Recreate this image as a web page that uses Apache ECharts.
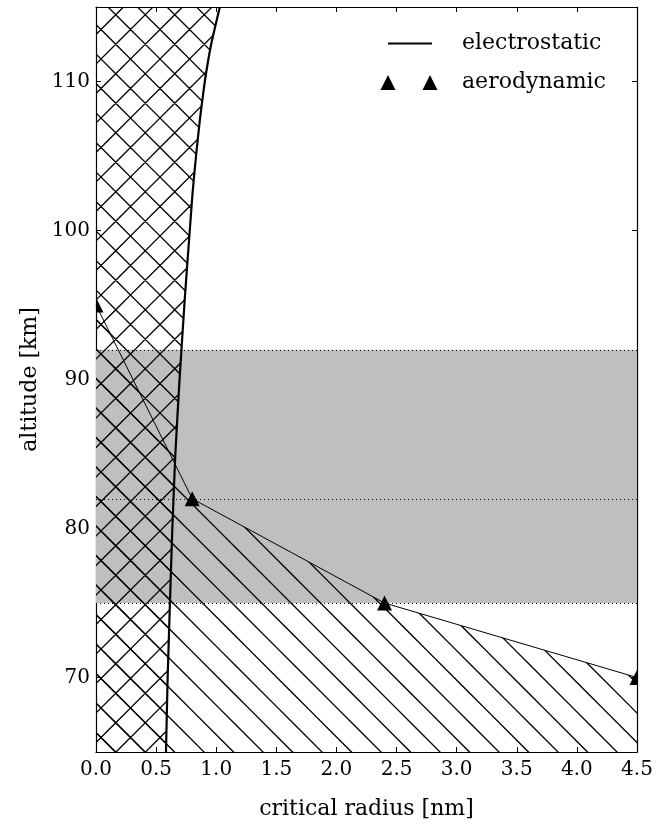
<!DOCTYPE html>
<html>
<head>
<meta charset="utf-8">
<script src="https://cdn.jsdelivr.net/npm/echarts@6/dist/echarts.min.js"></script>
<style>
  html, body { margin: 0; padding: 0; background: #fff; }
  #chart { width: 659px; height: 825px; }
</style>
</head>
<body>
<div id="chart"></div>
<script>
// Electrostatic critical radius (nm) versus altitude (km)
const elecAlt    = [65, 70, 75, 80, 85, 90, 95, 97.5, 100, 102.5, 105, 107.5, 110, 112.5, 115];
const elecRadius = [0.582, 0.596, 0.615, 0.635, 0.66, 0.695, 0.735, 0.757, 0.78, 0.803, 0.832, 0.865, 0.905, 0.958, 1.03];

// Aerodynamic critical radius (nm) versus altitude (km)
const aeroAlt    = [95, 82, 75, 70];
const aeroRadius = [0.0, 0.8, 2.4, 4.5];

// Shaded altitude band and the dotted reference levels
const bandLimits = [75, 92];
const levelLines = [75, 82, 92];

// Axis ranges and tick labels
const xRange = [0, 4.5];
const yRange = [65, 115];
const xTicks = [0, 0.5, 1.0, 1.5, 2.0, 2.5, 3.0, 3.5, 4.0, 4.5];
const yTicks = [70, 80, 90, 100, 110];

const FONT = 'DejaVu Serif';

// Tileable hatch image: '\\' lines, '/' lines, or both
function hatch(back, fwd) {
  const P = 29.5, S = 59, off = 12.5;
  const c = document.createElement('canvas');
  c.width = S; c.height = S;
  const ctx = c.getContext('2d');
  ctx.strokeStyle = '#000';
  ctx.lineWidth = 1.25;
  ctx.beginPath();
  for (let k = -6; k <= 8; k++) {
    const b = off + k * P;
    if (back) { ctx.moveTo(-10, -10 - b); ctx.lineTo(S + 10, S + 10 - b); }
    if (fwd)  { ctx.moveTo(-10, b + 10);  ctx.lineTo(S + 10, b - S - 10); }
  }
  ctx.stroke();
  return { image: c, repeat: 'repeat' };
}
const crossHatch = hatch(true, true);
const backHatch = hatch(true, false);

const elecPairs = elecAlt.map((a, i) => [elecRadius[i], a]);
const aeroPairs = aeroAlt.map((a, i) => [aeroRadius[i], a]);

// Region left of the electrostatic curve
const elecRegion = [[xRange[0], yRange[0]]].concat(elecPairs, [[xRange[0], yRange[1]]]);
// Region below the aerodynamic curve
const aeroRegion = [[xRange[0], yRange[0]]].concat(aeroPairs, [[xRange[1], yRange[0]]]);

function polygonItem(points, fill) {
  return function (params, api) {
    if (params.dataIndex !== 0) return null;
    return {
      type: 'polygon',
      shape: { points: points.map(p => api.coord(p)) },
      style: { fill: fill, stroke: null }
    };
  };
}

const axisCommon = {
  type: 'value',
  axisLine: { show: true, onZero: false, lineStyle: { color: '#000', width: 1.2 } },
  axisTick: { show: true, inside: true, length: 5, lineStyle: { color: '#000', width: 1 } },
  splitLine: { show: false }
};

const chart = echarts.init(document.getElementById('chart'), null, { renderer: 'canvas' });
chart.setOption({
  animation: false,
  backgroundColor: '#fff',
  grid: { left: 96, right: 22, top: 7, bottom: 70, containLabel: false },
  legend: [
    {
      data: ['electrostatic'],
      left: 388, top: 32.5, padding: 0, orient: 'vertical',
      icon: 'rect', itemWidth: 44, itemHeight: 2,
      selectedMode: false,
      textStyle: { fontFamily: FONT, fontSize: 22, color: '#000', padding: [0, 0, 0, 25] }
    },
    {
      data: ['aerodynamic'],
      left: 380.5, top: 71.5, padding: 0, orient: 'vertical',
      icon: 'path://M0,15 L7.5,0 L15,15 Z M42,15 L49.5,0 L57,15 Z',
      itemWidth: 57, itemHeight: 15,
      selectedMode: false,
      textStyle: { fontFamily: FONT, fontSize: 22, color: '#000', padding: [0, 0, 0, 19.5] }
    }
  ],
  xAxis: [
    Object.assign({}, axisCommon, {
      min: xRange[0], max: xRange[1], interval: 0.5, position: 'bottom',
      axisTick: Object.assign({}, axisCommon.axisTick, { customValues: xTicks }),
      axisLabel: {
        customValues: xTicks,
        formatter: v => Number(v).toFixed(1),
        color: '#000', fontFamily: FONT, fontSize: 20, margin: 8
      },
      name: 'critical radius [nm]', nameLocation: 'middle', nameGap: 46,
      nameTextStyle: { fontFamily: FONT, fontSize: 22, color: '#000' }
    }),
    Object.assign({}, axisCommon, {
      min: xRange[0], max: xRange[1], interval: 0.5, position: 'top',
      axisTick: Object.assign({}, axisCommon.axisTick, { customValues: xTicks }),
      axisLabel: { show: false }
    })
  ],
  yAxis: [
    Object.assign({}, axisCommon, {
      min: yRange[0], max: yRange[1], interval: 5, position: 'left',
      axisTick: Object.assign({}, axisCommon.axisTick, { customValues: yTicks }),
      axisLabel: {
        customValues: yTicks,
        color: '#000', fontFamily: FONT, fontSize: 20, margin: 6
      },
      name: 'altitude [km]', nameLocation: 'middle', nameGap: 52,
      nameTextStyle: { fontFamily: FONT, fontSize: 22, color: '#000' }
    }),
    Object.assign({}, axisCommon, {
      min: yRange[0], max: yRange[1], interval: 5, position: 'right',
      axisTick: Object.assign({}, axisCommon.axisTick, { customValues: yTicks }),
      axisLabel: { show: false }
    })
  ],
  series: [
    {
      // grey altitude band
      type: 'custom', z: 1, silent: true,
      data: [bandLimits],
      renderItem: function (params, api) {
        const tl = api.coord([xRange[0], api.value(1)]);
        const br = api.coord([xRange[1], api.value(0)]);
        return {
          type: 'rect',
          shape: { x: tl[0], y: tl[1], width: br[0] - tl[0], height: br[1] - tl[1] },
          style: { fill: '#bfbfbf' }
        };
      }
    },
    {
      type: 'custom', z: 2, silent: true, clip: true,
      data: [0],
      renderItem: polygonItem(aeroRegion, backHatch)
    },
    {
      type: 'custom', z: 3, silent: true, clip: true,
      data: [0],
      renderItem: polygonItem(elecRegion, crossHatch)
    },
    {
      // dotted reference levels
      type: 'custom', z: 4, silent: true,
      data: levelLines,
      renderItem: function (params, api) {
        const a = api.coord([xRange[0], api.value(0)]);
        const b = api.coord([xRange[1], api.value(0)]);
        return {
          type: 'line',
          shape: { x1: a[0], y1: Math.round(a[1]) + 0.5, x2: b[0], y2: Math.round(b[1]) + 0.5 },
          style: { stroke: '#000', lineWidth: 1, lineDash: [1, 3] }
        };
      }
    },
    {
      name: 'electrostatic', type: 'line', z: 6,
      data: elecPairs, smooth: 0.15, symbol: 'none',
      color: '#000',
      lineStyle: { color: '#000', width: 2.2 }
    },
    {
      name: 'aerodynamic', type: 'line', z: 5,
      data: aeroPairs, symbol: 'none',
      color: '#000',
      lineStyle: { color: '#000', width: 1 }
    },
    {
      // triangle markers on the aerodynamic curve
      type: 'custom', z: 7, silent: true, clip: true,
      data: aeroPairs,
      renderItem: function (params, api) {
        const p = api.coord([api.value(0), api.value(1)]);
        const h = 7.5;
        return {
          type: 'polygon',
          shape: { points: [[p[0], p[1] - h], [p[0] + h, p[1] + h], [p[0] - h, p[1] + h]] },
          style: { fill: '#000' }
        };
      }
    }
  ]
});
</script>
</body>
</html>
